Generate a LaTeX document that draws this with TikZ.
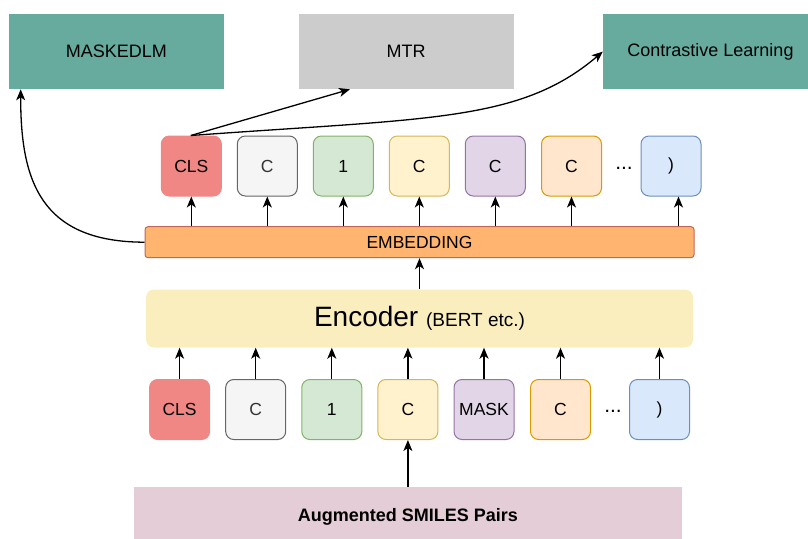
\documentclass[tikz,border=0pt]{standalone}
\usepackage{fontspec}
\setmainfont{Liberation Sans}
\usetikzlibrary{arrows.meta,calc}

\definecolor{teal}{HTML}{67AB9F}
\definecolor{greybox}{HTML}{CCCCCC}
\definecolor{clsfill}{HTML}{F08784}
\definecolor{embfill}{HTML}{FFB570}
\definecolor{embline}{HTML}{C0665A}
\definecolor{encfill}{HTML}{FAEEBE}
\definecolor{augfill}{HTML}{E4CDD6}

\tikzset{
  task/.style={minimum width=215pt, minimum height=75pt, inner sep=0pt,
    font=\fontsize{18}{20}\selectfont},
  tok/.style={rounded corners=8pt, line width=1pt, minimum width=60pt,
    minimum height=60pt, inner sep=0pt, font=\fontsize{17.5}{20}\selectfont},
  tokcls/.style={tok, fill=clsfill, draw=clsfill},
  tokgrey/.style={tok, fill={rgb,255:red,245;green,245;blue,245}, draw={rgb,255:red,102;green,102;blue,102}, text={rgb,255:red,51;green,51;blue,51}},
  tokgreen/.style={tok, fill={rgb,255:red,213;green,232;blue,212}, draw={rgb,255:red,130;green,179;blue,102}},
  tokyellow/.style={tok, fill={rgb,255:red,255;green,242;blue,204}, draw={rgb,255:red,214;green,182;blue,86}},
  tokpurple/.style={tok, fill={rgb,255:red,225;green,213;blue,231}, draw={rgb,255:red,150;green,115;blue,166}},
  tokorange/.style={tok, fill={rgb,255:red,255;green,230;blue,204}, draw={rgb,255:red,215;green,155;blue,0}},
  tokblue/.style={tok, fill={rgb,255:red,218;green,232;blue,252}, draw={rgb,255:red,108;green,142;blue,191}},
  dots/.style={inner sep=0pt, font=\fontsize{21}{22}\selectfont},
  arr/.style={line width=1.3pt, -{Stealth[length=11pt,width=9pt,inset=3pt]}},
}

\begin{document}
\begin{tikzpicture}[x=1pt, y=-1pt]
\useasboundingbox (0,0) rectangle (808,538);

% training objectives
\node[task, fill=teal] (masked) at (116.4,51.6) {MASKEDLM};
\node[task, fill=greybox] (mtr) at (406,51.6) {MTR};
\node[task, fill=teal] (contr) at (710.5,51.6) {Contrastive Learning};

% output tokens
\node[tokcls]    (t1) at (191.3,166) {CLS};
\node[tokgrey]   (t2) at (267.3,166) {C};
\node[tokgreen]  (t3) at (343.3,166) {1};
\node[tokyellow] (t4) at (419.3,166) {C};
\node[tokpurple] (t5) at (495.3,166) {C};
\node[tokorange] (t6) at (571.5,166) {C};
\node[dots]      (td) at (624,168) {...};
\node[tokblue]   (t7) at (671,166) {)};

% embedding layer
\node[fill=embfill, draw=embline, line width=1pt, rounded corners=3pt,
  minimum width=549pt, minimum height=31pt, inner sep=0pt,
  font=\fontsize{17.5}{20}\selectfont] (emb) at (419.5,242.2) {EMBEDDING};

% encoder
\node[fill=encfill, rounded corners=8pt, minimum width=547pt,
  minimum height=58pt, inner sep=0pt] (enc) at (419.5,318.5)
  {\fontsize{28}{30}\selectfont Encoder \fontsize{19}{20}\selectfont(BERT etc.)};

% input tokens
\node[tokcls]    (b1) at (179.6,409.5) {CLS};
\node[tokgrey]   (b2) at (255.7,409.5) {C};
\node[tokgreen]  (b3) at (331.8,409.5) {1};
\node[tokyellow] (b4) at (407.9,409.5) {C};
\node[tokpurple] (b5) at (484,409.5) {MASK};
\node[tokorange] (b6) at (560.5,409.5) {C};
\node[dots]      (bd) at (613,411.5) {...};
\node[tokblue]   (b7) at (659.5,409.5) {)};

% input data
\node[fill=augfill, minimum width=548pt, minimum height=60pt, inner sep=0pt,
  font=\bfseries\fontsize{18}{20}\selectfont] (aug) at (407.8,516.7)
  {Augmented SMILES Pairs};

% embedding to output tokens
\foreach \t in {t1,t2,t3,t4,t5,t6}
  \draw[arr] (\t.south |- emb.north) -- (\t.south);
\draw[arr] ([xshift=7.5pt]t7.south |- emb.north) -- ([xshift=7.5pt]t7.south);

% encoder to embedding
\draw[arr] (enc.north) -- (emb.south);

% input tokens to encoder
\foreach \b in {b1,b2,b3,b4,b5,b6,b7}
  \draw[arr] (\b.north) -- (\b.north |- enc.south);

% data to tokens
\draw[arr] (aug.north -| b4) -- (b4.south);

% heads
\draw[arr] (emb.west) .. controls (40,242) and (20.5,180) .. ([xshift=12pt]masked.south west);
\draw[arr] ([xshift=-0.5pt]t1.north) -- ([xshift=-56pt]mtr.south);
\draw[arr] ([xshift=-0.5pt]t1.north) .. controls (430,118) and (520,122) .. (contr.west);
\end{tikzpicture}
\end{document}
